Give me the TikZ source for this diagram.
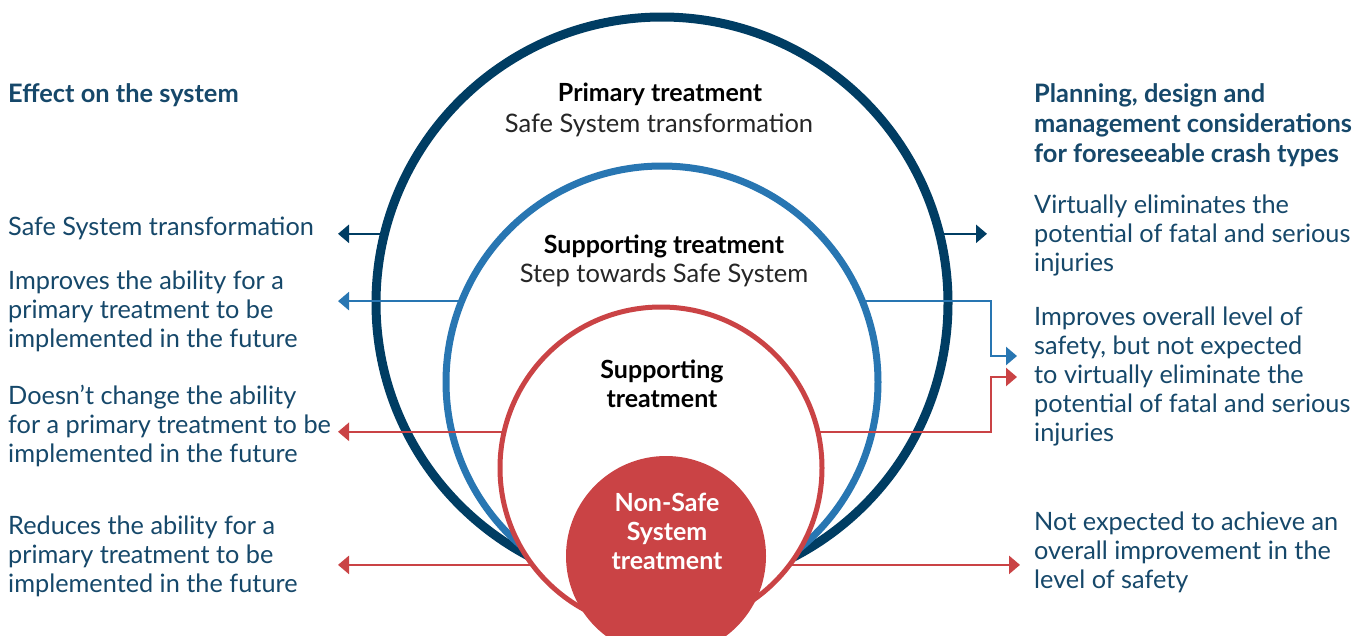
\documentclass[tikz,border=0pt]{standalone}
\usepackage{fontspec}
\setmainfont{Lato}
\usetikzlibrary{arrows.meta}
\definecolor{navy}{RGB}{0,61,99}
\definecolor{midblue}{RGB}{40,118,178}
\definecolor{brick}{RGB}{202,67,69}
\definecolor{inktext}{RGB}{22,72,106}

\begin{document}
\begin{tikzpicture}[x=1pt, y=-1pt,
    ring/.style={circle, inner sep=0pt, outer sep=0pt},
    side/.style={anchor=west, align=left, inner sep=0pt, text=inktext, font=\fontsize{25.3}{29}\selectfont},
    head/.style={anchor=west, align=left, inner sep=0pt, text=inktext, font=\fontsize{25.4}{30}\selectfont\bfseries},
    lbl/.style={inner sep=0pt, font=\fontsize{25}{29}\selectfont\bfseries},
    sub/.style={inner sep=0pt, text=black!85, font=\fontsize{25.5}{29}\selectfont},
    arr/.style={-{Triangle[length=11pt, width=18pt]}, line width=2.5pt, line join=miter}]
  \useasboundingbox (0,0) rectangle (1366,635);
  \fill[white] (0,0) rectangle (1366,635);

  \node[ring, draw=navy, line width=9pt, minimum size=572pt] (outer) at (662,303) {};
  \node[ring, draw=midblue, line width=7pt, minimum size=432pt] (mid) at (662,382) {};
  \node[ring, draw=brick, fill=white, line width=5pt, minimum size=322pt] (inner) at (661,468) {};
  \node[ring, fill=brick, minimum size=200pt] (core) at (666,556) {};

  \node[lbl] (primT) at (660,94) {Primary treatment};
  \node[sub] (primS) at (659,125) {Safe System transformation};
  \node[lbl] (suppT) at (664,246) {Supporting treatment};
  \node[sub] (suppS) at (664,275) {Step towards Safe System};
  \node[lbl, align=center] (innerT) at (662,384) {Supporting\\treatment};
  \node[lbl, align=center, text=white] (coreT) at (667,531) {Non-Safe\\System\\treatment};

  \node[head] (effect) at (8,95) {Effect on the system};
  \node[side] (lA) at (8,228) {Safe System transformation};
  \node[side] (lB) at (8,311) {Improves the ability for a\\primary treatment to be\\implemented in the future};
  \node[side] (lC) at (8,426) {Doesn’t change the ability\\for a primary treatment to be\\implemented in the future};
  \node[side] (lD) at (8,556) {Reduces the ability for a\\primary treatment to be\\implemented in the future};

  \node[head] (plan) at (1034,125) {Planning, design and\\management considerations\\for foreseeable crash types};
  \node[side] (rA) at (1034,235) {Virtually eliminates the\\potential of fatal and serious\\injuries};
  \node[side] (rB) at (1034,376) {Improves overall level of\\safety, but not expected\\to virtually eliminate the\\potential of fatal and serious\\injuries};
  \node[side] (rC) at (1034,552) {Not expected to achieve an\\overall improvement in the\\level of safety};

  \coordinate (tipL) at (338,0);
  \coordinate (tipR) at (987,0);
  \coordinate (bturn) at (991,356);
  \coordinate (btip) at (1017,356);
  \coordinate (rturn) at (991,377);
  \coordinate (rtip) at (1017,377);
  \coordinate (tipLow) at (1020,0);

  \draw[arr, navy] (outer.166) -- (outer.166 -| tipL);
  \draw[arr, navy] (outer.14) -- (outer.14 -| tipR);
  \draw[arr, midblue] (mid.158) -- (mid.158 -| tipL);
  \draw[arr, midblue] (mid.22) -| (bturn) -- (btip);
  \draw[arr, brick] (inner.167) -- (inner.167 -| tipL);
  \draw[arr, brick] (inner.13) -| (rturn) -- (rtip);
  \draw[arr, brick] (inner.217) -- (inner.217 -| tipL);
  \draw[arr, brick] (inner.323) -- (inner.323 -| tipLow);
\end{tikzpicture}
\end{document}
